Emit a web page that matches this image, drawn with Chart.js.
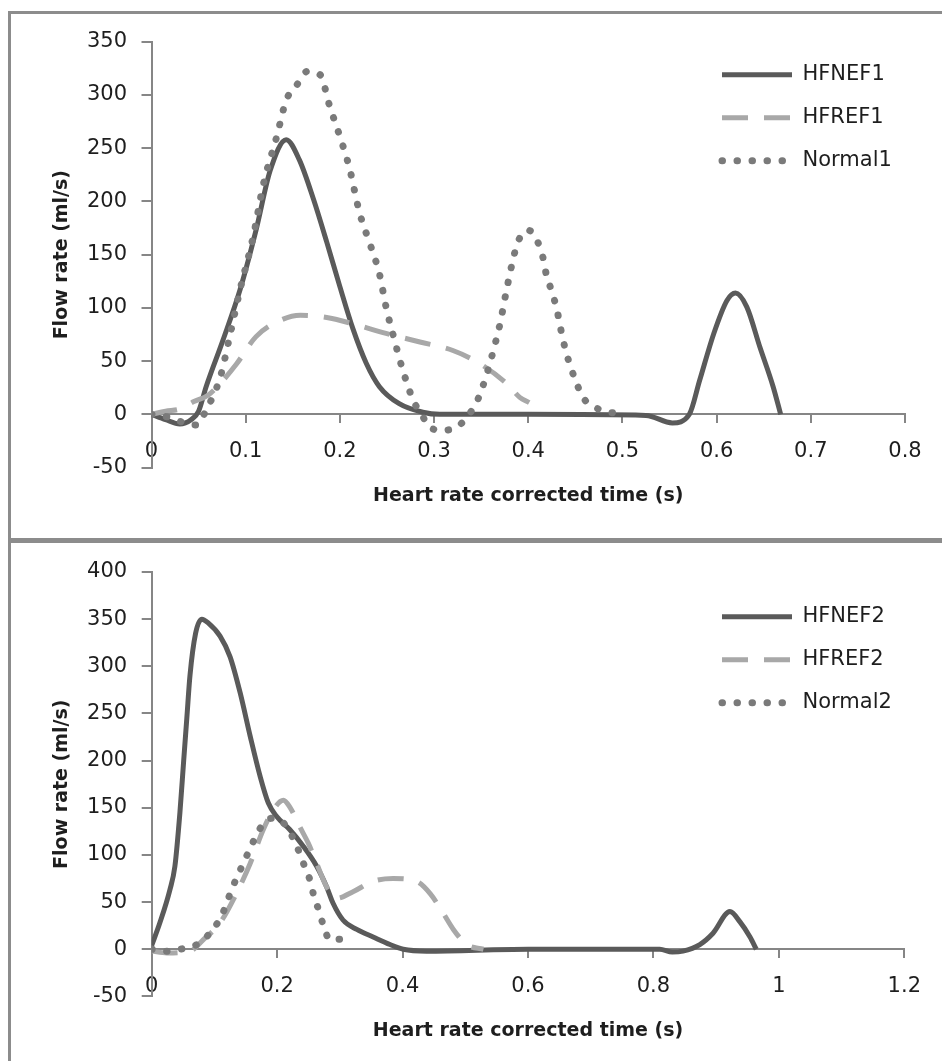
<!DOCTYPE html>
<html>
<head>
<meta charset="utf-8">
<script src="https://cdn.jsdelivr.net/npm/chart.js@4.4.0/dist/chart.umd.min.js"></script>
<style>
  html, body { margin: 0; padding: 0; background: #fff; overflow: hidden; }
  body { width: 942px; height: 1061px; position: relative; }
  canvas { position: absolute; left: 0; }
  #chart1 { top: 0; }
  #chart2 { top: 540px; }
  .frame { position: absolute; box-sizing: border-box; border: 3px solid #8c8c8c; }
  #frame1 { left: 8px; top: 11px; width: 1000px; height: 530px; }
  #frame2 { left: 8px; top: 540px; width: 1000px; height: 600px; }
</style>
</head>
<body>
<canvas id="chart1" width="942" height="540"></canvas>
<canvas id="chart2" width="942" height="521"></canvas>
<div class="frame" id="frame1"></div>
<div class="frame" id="frame2"></div>
<script>
// ---- top panel data (time s, flow ml/s) ----
var hfnef1X = [0, 0.015, 0.03, 0.042, 0.05, 0.058, 0.076, 0.094, 0.111, 0.126, 0.143, 0.157, 0.172, 0.186, 0.2, 0.214, 0.228, 0.242, 0.263, 0.288, 0.306, 0.4, 0.525, 0.553, 0.571, 0.582, 0.597, 0.611, 0.62, 0.632, 0.646, 0.66, 0.668];
var hfnef1Y = [0, -5, -9, -5, 3, 26, 70, 117, 173, 229, 258, 239, 202, 162, 120, 80, 48, 26, 10, 2, 0, 0, -1, -8, 0, 32, 76, 107, 114, 101, 63, 26, 0];

var hfref1X = [0, 0.015, 0.03, 0.045, 0.06, 0.075, 0.09, 0.111, 0.136, 0.158, 0.186, 0.214, 0.249, 0.285, 0.32, 0.348, 0.377, 0.391, 0.401];
var hfref1Y = [0, 3, 5, 12, 18, 31, 47, 73, 88, 93, 91, 85, 76, 68, 60, 48, 29, 16, 11];

var normal1X = [0, 0.02, 0.035, 0.048, 0.058, 0.073, 0.083, 0.094, 0.108, 0.119, 0.133, 0.143, 0.154, 0.165, 0.179, 0.189, 0.2, 0.21, 0.221, 0.232, 0.242, 0.249, 0.257, 0.267, 0.278, 0.288, 0.295, 0.31, 0.327, 0.338, 0.347, 0.356, 0.363, 0.37, 0.377, 0.384, 0.389, 0.4, 0.41, 0.416, 0.419, 0.424, 0.43, 0.435, 0.44, 0.446, 0.451, 0.458, 0.47, 0.486, 0.502];
var normal1Y = [0, -3, -8, -10, 4, 35, 73, 117, 167, 217, 261, 295, 309, 322, 319, 290, 261, 232, 189, 160, 132, 101, 73, 41, 13, -2, -12, -15, -10, 1, 15, 38, 60, 85, 117, 146, 162, 173, 162, 146, 132, 118, 100, 78, 59, 42, 30, 16, 7, 2, 1];

// ---- bottom panel data ----
var hfnef2X = [0, 0.013, 0.029, 0.037, 0.045, 0.051, 0.056, 0.061, 0.07, 0.08, 0.09, 0.109, 0.125, 0.141, 0.157, 0.173, 0.186, 0.199, 0.22, 0.242, 0.263, 0.279, 0.289, 0.305, 0.327, 0.353, 0.38, 0.401, 0.438, 0.6, 0.81, 0.83, 0.847, 0.874, 0.895, 0.922, 0.938, 0.954, 0.964];
var hfnef2Y = [4, 28, 63, 88, 145, 200, 245, 290, 335, 350, 346, 332, 310, 272, 226, 183, 155, 141, 127, 109, 88, 66, 49, 31, 21, 13, 5, 0, -2, 0, 0, -3, -2, 5, 17, 40, 29, 13, 0];

var hfref2X = [0, 0.024, 0.061, 0.082, 0.109, 0.135, 0.157, 0.178, 0.194, 0.21, 0.22, 0.236, 0.25, 0.263, 0.279, 0.295, 0.321, 0.353, 0.385, 0.422, 0.444, 0.465, 0.481, 0.502, 0.529];
var hfref2Y = [-2, -4, -2, 10, 28, 59, 91, 127, 148, 158, 151, 130, 112, 91, 66, 54, 61, 72, 75, 72, 59, 38, 21, 5, 0];

var normal2X = [0, 0.024, 0.045, 0.072, 0.09, 0.106, 0.117, 0.125, 0.135, 0.146, 0.157, 0.167, 0.18, 0.194, 0.21, 0.223, 0.234, 0.242, 0.252, 0.258, 0.266, 0.274, 0.284, 0.305];
var normal2Y = [0, -2, 0, 5, 15, 29, 44, 59, 75, 91, 107, 121, 135, 139, 134, 121, 105, 91, 74, 58, 42, 25, 10, 11];

// axis ranges
var xRange1 = [0, 0.8], xStep1 = 0.1;
var yRange1 = [-50, 350];
var xRange2 = [0, 1.2], xStep2 = 0.2;
var yRange2 = [-50, 400];
var yStep = 50;

var axisGrey = "#868686";
var textColor = "#1e1e1e";

Chart.defaults.font.family = "'DejaVu Sans', sans-serif";
Chart.defaults.color = textColor;

function pts(xs, ys) {
    return xs.map(function (x, i) { return { x: x, y: ys[i] }; });
}

// kind: solid / dash / dot  (later series are drawn on top, like Excel)
function series(label, xs, ys, kind) {
    var ds = {
        label: label,
        data: pts(xs, ys),
        pointRadius: 0,
        fill: false,
        cubicInterpolationMode: "monotone",
        borderJoinStyle: "round",
    };
    if (kind === "solid") {
        ds.borderColor = "#5a5a5a";
        ds.borderWidth = 5;
        ds.order = 3;
    } else if (kind === "dash") {
        ds.borderColor = "#a8a8a8";
        ds.borderWidth = 5;
        ds.borderDash = [26, 16];
        ds.order = 2;
    } else {
        ds.borderColor = "#7a7a7a";
        ds.borderWidth = 7;
        ds.borderDash = [0.5, 14.5];
        ds.borderCapStyle = "round";
        ds.order = 1;
    }
    return ds;
}

// legend samples: copy the dataset line style onto the legend item
function legendLabels(chart) {
    var items = Chart.defaults.plugins.legend.labels.generateLabels(chart);
    items.forEach(function (it) {
        var ds = chart.data.datasets[it.datasetIndex];
        it.lineDash = ds.borderDash || [];
        it.lineCap = ds.borderCapStyle || "butt";
        it.lineWidth = ds.borderWidth;
        it.strokeStyle = ds.borderColor;
    });
    return items;
}

// moves the legend box to a fixed spot inside the plot
var legendSpot = {
    id: "legendSpot",
    afterLayout: function (chart, args, opts) {
        var lg = chart.legend;
        var w = lg.width, h = lg.height;
        lg.left = opts.x;
        lg.top = opts.y;
        lg.right = opts.x + w;
        lg.bottom = opts.y + h;
    },
};

function makeOptions(xr, xs, yr, pad, legendTop) {
    return {
        responsive: false,
        animation: false,
        layout: { padding: pad },
        plugins: {
            legend: {
                position: "chartArea",
                align: "start",
                labels: {
                    usePointStyle: true,
                    pointStyle: "line",
                    pointStyleWidth: 70,
                    padding: 22,
                    color: textColor,
                    font: { size: 21 },
                    generateLabels: legendLabels,
                    sort: function (a, b) { return a.datasetIndex - b.datasetIndex; },
                },
            },
            tooltip: { enabled: false },
            legendSpot: { x: 700, y: legendTop },
        },
        scales: {
            x: {
                type: "linear",
                min: xr[0],
                max: xr[1],
                position: { y: 0 },
                ticks: {
                    stepSize: xs,
                    padding: 17,
                    color: textColor,
                    font: { size: 21 },
                    callback: function (v) { return String(+v.toFixed(2)); },
                },
                grid: { drawOnChartArea: false, tickLength: 8, color: axisGrey, lineWidth: 2 },
                border: { color: axisGrey, width: 2 },
                title: {
                    display: true,
                    text: "Heart rate corrected time (s)",
                    color: textColor,
                    font: { size: 19, weight: "bold" },
                    padding: { top: 3, bottom: 0 },
                },
            },
            y: {
                min: yr[0],
                max: yr[1],
                ticks: { stepSize: yStep, padding: 14.5, color: textColor, font: { size: 21 } },
                grid: { drawOnChartArea: false, tickLength: 10, color: axisGrey, lineWidth: 2 },
                border: { color: axisGrey, width: 2 },
                title: {
                    display: true,
                    text: "Flow rate (ml/s)",
                    color: textColor,
                    font: { size: 19, weight: "bold" },
                    padding: { top: 9, bottom: 0 },
                },
                afterFit: function (scale) { scale.width = 110; },
            },
        },
    };
}

new Chart(document.getElementById("chart1"), {
    type: "line",
    data: {
        datasets: [
            series("HFNEF1", hfnef1X, hfnef1Y, "solid"),
            series("HFREF1", hfref1X, hfref1Y, "dash"),
            series("Normal1", normal1X, normal1Y, "dot"),
        ],
    },
    options: makeOptions(xRange1, xStep1, yRange1, { left: 41.5, right: 37, top: 41.7, bottom: 72.4 }, 42.3),
    plugins: [legendSpot],
});

new Chart(document.getElementById("chart2"), {
    type: "line",
    data: {
        datasets: [
            series("HFNEF2", hfnef2X, hfnef2Y, "solid"),
            series("HFREF2", hfref2X, hfref2Y, "dash"),
            series("Normal2", normal2X, normal2Y, "dot"),
        ],
    },
    options: makeOptions(xRange2, xStep2, yRange2, { left: 41.7, right: 37.7, top: 32, bottom: 64.6 }, 44.2),
    plugins: [legendSpot],
});
</script>
</body>
</html>
